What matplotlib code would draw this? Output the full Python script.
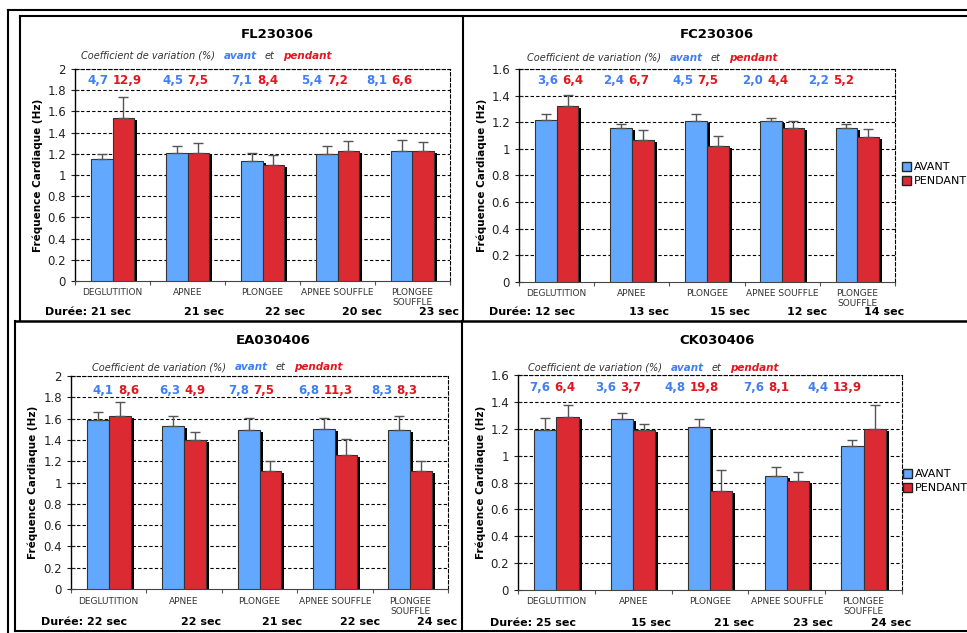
import numpy as np
import matplotlib
matplotlib.use("Agg")
import matplotlib.pyplot as plt
import matplotlib.transforms as mtransforms
from matplotlib.lines import Line2D
from matplotlib.patches import Patch

categories = ["DEGLUTITION", "APNEE", "PLONGEE", "APNEE SOUFFLE", "PLONGEE\nSOUFFLE"]

# FL230306
fl_avant = [1.15, 1.21, 1.13, 1.20, 1.23]
fl_avant_err = [0.05, 0.06, 0.08, 0.07, 0.10]
fl_pendant = [1.54, 1.21, 1.09, 1.23, 1.23]
fl_pendant_err = [0.20, 0.09, 0.10, 0.09, 0.08]
fl_cv_avant = ["4,7", "4,5", "7,1", "5,4", "8,1"]
fl_cv_pendant = ["12,9", "7,5", "8,4", "7,2", "6,6"]
fl_duree = [21, 21, 22, 20, 23]

# FC230306
fc_avant = [1.22, 1.16, 1.21, 1.21, 1.16]
fc_avant_err = [0.045, 0.03, 0.055, 0.025, 0.025]
fc_pendant = [1.32, 1.07, 1.02, 1.16, 1.09]
fc_pendant_err = [0.085, 0.075, 0.08, 0.05, 0.06]
fc_cv_avant = ["3,6", "2,4", "4,5", "2,0", "2,2"]
fc_cv_pendant = ["6,4", "6,7", "7,5", "4,4", "5,2"]
fc_duree = [12, 13, 15, 12, 14]

# EA030406
ea_avant = [1.59, 1.53, 1.49, 1.50, 1.49]
ea_avant_err = [0.07, 0.095, 0.115, 0.105, 0.13]
ea_pendant = [1.62, 1.40, 1.11, 1.26, 1.11]
ea_pendant_err = [0.14, 0.07, 0.09, 0.145, 0.095]
ea_cv_avant = ["4,1", "6,3", "7,8", "6,8", "8,3"]
ea_cv_pendant = ["8,6", "4,9", "7,5", "11,3", "8,3"]
ea_duree = [22, 22, 21, 22, 24]

# CK030406
ck_avant = [1.19, 1.27, 1.21, 0.85, 1.07]
ck_avant_err = [0.09, 0.05, 0.06, 0.065, 0.05]
ck_pendant = [1.29, 1.19, 0.74, 0.81, 1.20]
ck_pendant_err = [0.085, 0.045, 0.15, 0.07, 0.175]
ck_cv_avant = ["7,6", "3,6", "4,8", "7,6", "4,4"]
ck_cv_pendant = ["6,4", "3,7", "19,8", "8,1", "13,9"]
ck_duree = [25, 15, 21, 23, 24]

BLUE = "#62a8ff"
RED = "#dc2a32"
TXT_BLUE = "#3f7ff5"
TXT_RED = "#e3161e"
W, H = 967, 633

plt.rcParams["font.family"] = "DejaVu Sans"
fig = plt.figure(figsize=(W / 100, H / 100), dpi=100)


def fx(px):
    return px / W


def fy(py):
    return 1 - py / H


def panel(box, ymax, title, title_pos, coef_pos, ylab_x, avant, aerr, pend, perr,
          cv_a, cv_p, cv_x, cv_y, duree, cat_y, duree_y, legend_pos=None):
    l, t, r, b = box
    ax = fig.add_axes([fx(l), fy(b), (r - l) / W, (b - t) / H])
    x = np.arange(len(categories))
    w = 0.29

    # shadow behind the bars
    shadow = mtransforms.offset_copy(ax.transData, fig=fig, x=3, y=-2, units="dots")
    ax.bar(x - w / 2, avant, w, color="black", transform=shadow, zorder=2)
    ax.bar(x + w / 2, pend, w, color="black", transform=shadow, zorder=2)
    ax.bar(x - w / 2, avant, w, color=BLUE, edgecolor="#333333", linewidth=0.8, zorder=3)
    ax.bar(x + w / 2, pend, w, color=RED, edgecolor="#333333", linewidth=0.8, zorder=3)
    ax.errorbar(x - w / 2, avant, yerr=[np.zeros(5), aerr], fmt="none", ecolor="#555555",
                elinewidth=1, capsize=3.5, capthick=1, zorder=4)
    ax.errorbar(x + w / 2, pend, yerr=[np.zeros(5), perr], fmt="none", ecolor="#555555",
                elinewidth=1, capsize=3.5, capthick=1, zorder=4)

    ticks = np.round(np.arange(0, ymax + 0.001, 0.2), 1)
    for v in ticks[1:]:
        ax.axhline(v, color="black", lw=0.8, ls=(0, (3, 2)), zorder=1)
    ax.set_ylim(0, ymax)
    ax.set_xlim(-0.5, 4.5)
    ax.set_yticks(ticks)
    ax.set_yticklabels([f"{v:g}" for v in ticks])
    ax.set_xticks(np.arange(-0.5, 5, 1))
    ax.set_xticklabels([])
    ax.tick_params(axis="y", direction="inout", length=6, labelsize=8.5, colors="#222222")
    ax.tick_params(axis="x", direction="out", length=3, color="#555555")
    for s in ("top", "right"):
        ax.spines[s].set_linestyle((0, (3, 2)))
        ax.spines[s].set_linewidth(0.8)
    ax.spines["left"].set_linewidth(1)
    ax.spines["bottom"].set_color("#444444")

    bt = mtransforms.blended_transform_factory(ax.transData, fig.transFigure)
    for i, c in enumerate(categories):
        ax.text(i, fy(cat_y), c, transform=bt, ha="center", va="top", fontsize=6.5,
                color="#333333", linespacing=1.2)
    dur_x = [0.25, 1.49, 2.57, 3.6, 4.62]
    for i, d in enumerate(duree):
        lab = f"Durée: {d} sec" if i == 0 else f"{d} sec"
        ax.text(dur_x[i], fy(duree_y), lab, transform=bt, ha="right", va="center",
                fontsize=8, fontweight="bold", clip_on=False)

    at = mtransforms.blended_transform_factory(ax.transData, ax.transAxes)
    for i in range(5):
        ta = ax.text(cv_x[i], cv_y, cv_a[i], transform=at, ha="left", va="center",
                     fontsize=8.5, fontweight="bold", color=TXT_BLUE)
        ax.annotate(cv_p[i], xy=(1, 0.5), xycoords=ta, xytext=(3, 0),
                    textcoords="offset points", ha="left", va="center",
                    fontsize=8.5, fontweight="bold", color=TXT_RED)

    fig.text(fx(title_pos[0]), fy(title_pos[1]), title, ha="center", va="center",
             fontsize=9.5, fontweight="bold")
    t1 = fig.text(fx(coef_pos[0]), fy(coef_pos[1]), "Coefficient de variation (%)",
                  ha="left", va="center", fontsize=7, style="italic", color="#333333")
    t2 = ax.annotate("avant", xy=(1, 0.5), xycoords=t1, xytext=(6, 0),
                     textcoords="offset points", ha="left", va="center", fontsize=7.5,
                     style="italic", fontweight="bold", color=TXT_BLUE)
    t3 = ax.annotate("et", xy=(1, 0.5), xycoords=t2, xytext=(6, 0),
                     textcoords="offset points", ha="left", va="center", fontsize=7,
                     style="italic", color="#333333")
    ax.annotate("pendant", xy=(1, 0.5), xycoords=t3, xytext=(6, 0),
                textcoords="offset points", ha="left", va="center", fontsize=7.5,
                style="italic", fontweight="bold", color=TXT_RED)
    fig.text(fx(ylab_x), fy((t + b) / 2), "Fréquence Cardiaque (Hz)", rotation=90,
             ha="center", va="center", fontsize=7.5, fontweight="bold")

    if legend_pos is not None:
        handles = [Patch(facecolor=BLUE, edgecolor="#222222", label="AVANT"),
                   Patch(facecolor=RED, edgecolor="#222222", label="PENDANT")]
        fig.legend(handles=handles, loc="upper left",
                   bbox_to_anchor=(fx(legend_pos[0]), fy(legend_pos[1])), frameon=False,
                   fontsize=8, handlelength=0.8, handleheight=0.8, handletextpad=0.3,
                   labelspacing=0.35, borderpad=0, borderaxespad=0)
    return ax


panel((75, 69, 450, 281), 2.0, "FL230306", (277, 34), (81, 56), 38,
      fl_avant, fl_avant_err, fl_pendant, fl_pendant_err, fl_cv_avant, fl_cv_pendant,
      [-0.33, 0.66, 1.59, 2.52, 3.38], 0.948, fl_duree, 288, 312)
panel((519, 69, 895, 282), 1.6, "FC230306", (717, 34), (527, 58), 482,
      fc_avant, fc_avant_err, fc_pendant, fc_pendant_err, fc_cv_avant, fc_cv_pendant,
      [-0.26, 0.62, 1.54, 2.47, 3.34], 0.948, fc_duree, 289, 312, legend_pos=(902, 162))
panel((71, 376, 448, 589), 2.0, "EA030406", (273, 340), (92, 367), 33,
      ea_avant, ea_avant_err, ea_pendant, ea_pendant_err, ea_cv_avant, ea_cv_pendant,
      [-0.21, 0.67, 1.58, 2.51, 3.48], 0.93, ea_duree, 597, 622)
panel((518, 375, 902, 590), 1.6, "CK030406", (717, 340), (528, 368), 481,
      ck_avant, ck_avant_err, ck_pendant, ck_pendant_err, ck_cv_avant, ck_cv_pendant,
      [-0.36, 0.50, 1.41, 2.43, 3.27], 0.944, ck_duree, 597, 623, legend_pos=(903, 469))


def hline(y, x0, x1, lw=1.5):
    fig.add_artist(Line2D([fx(x0), fx(x1)], [fy(y), fy(y)], transform=fig.transFigure,
                          color="black", lw=lw))


def vline(x, y0, y1, lw=1.5):
    fig.add_artist(Line2D([fx(x), fx(x)], [fy(y0), fy(y1)], transform=fig.transFigure,
                          color="black", lw=lw))


hline(10, 8, 967)
vline(8, 10, 633)
hline(16, 20, 967)
vline(20, 16, 321)
vline(463, 16, 321)
hline(321, 15, 967, lw=1.8)
vline(15, 321, 631)
vline(462, 321, 631)
hline(631, 15, 967)

fig.savefig("out.png", dpi=100)
